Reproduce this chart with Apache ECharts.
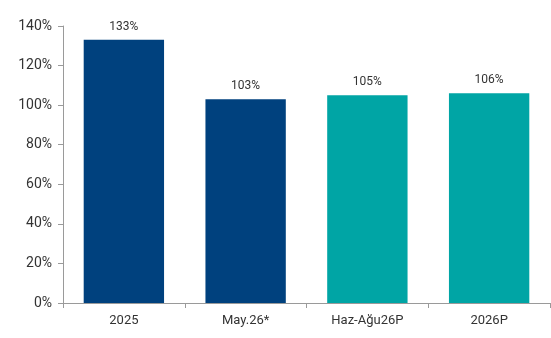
<!DOCTYPE html>
<html><head><meta charset="utf-8">
<script src="https://cdn.jsdelivr.net/npm/echarts@6/dist/echarts.min.js"></script>
<style>html,body{margin:0;padding:0;background:#fff}#c{width:551px;height:338px}</style>
</head><body><div id="c"></div>
<script>
const categories = ['2025', 'May.26*', 'Haz-Ağu26P', '2026P'];
const values = [133, 103, 105, 106];
const colors = ['#00417E', '#00417E', '#00A5A5', '#00A5A5'];
const yTicks = [0, 20, 40, 60, 80, 100, 120, 140];

const chart = echarts.init(document.getElementById('c'));
chart.setOption({
  animation: false,
  textStyle: { fontFamily: 'Roboto', color: '#333' },
  grid: { left: 63, right: 1, top: 26, bottom: 35, containLabel: false },
  xAxis: {
    type: 'category', data: categories,
    axisLine: { lineStyle: { color: '#9a9a9a', width: 1 } },
    axisTick: { show: true, alignWithLabel: false, length: 5, lineStyle: { color: '#9a9a9a' } },
    axisLabel: { color: '#333', fontSize: 13, margin: 11, fontFamily: 'Roboto' }
  },
  yAxis: {
    type: 'value', min: yTicks[0], max: yTicks[yTicks.length - 1], interval: 20,
    axisLine: { show: true, lineStyle: { color: '#9a9a9a', width: 1 } },
    axisTick: { show: true, length: 5, lineStyle: { color: '#9a9a9a' } },
    splitLine: { show: false },
    axisLabel: { color: '#333', fontSize: 14, margin: 11, formatter: '{value}%', fontFamily: 'Roboto' }
  },
  series: [{
    type: 'bar', barWidth: '66%',
    data: values.map((v, i) => ({ value: v, itemStyle: { color: colors[i] } })),
    label: { show: true, position: 'top', formatter: '{c}%', color: '#333', fontSize: 12, distance: 7, fontFamily: 'Roboto' }
  }]
});
</script></body></html>
